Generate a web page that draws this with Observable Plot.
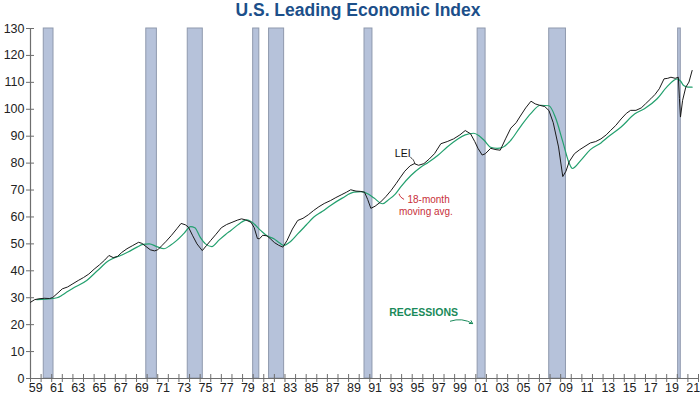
<!DOCTYPE html>
<html><head><meta charset="utf-8">
<script src="https://cdn.jsdelivr.net/npm/d3@7"></script>
<script src="https://cdn.jsdelivr.net/npm/@observablehq/plot@0.6"></script>
<style>
body{margin:0;background:#fff;}
#title{height:22px;line-height:22px;font:bold 17.5px "Liberation Sans",Arial,sans-serif;color:#1c4f8a;text-align:center;padding-left:16px;}
#chart svg{display:block;}
</style></head><body>
<div id="title">U.S. Leading Economic Index</div>
<div id="chart"></div>
<script>
// Leading Economic Index (decimal year, index value)
const leiYear = [1959.0,1959.4,1959.8,1960.3,1960.8,1961.1,1961.5,1962.0,1962.5,1963.0,1963.5,1964.0,1964.5,1965.0,1965.5,1966.0,1966.4,1966.8,1967.2,1967.6,1968.1,1968.6,1969.2,1969.5,1969.9,1970.3,1970.7,1971.0,1971.4,1971.8,1972.3,1972.8,1973.2,1973.6,1973.9,1974.3,1974.7,1975.2,1975.6,1976.0,1976.5,1977.0,1977.5,1978.0,1978.5,1978.9,1979.3,1979.8,1980.1,1980.4,1980.6,1980.9,1981.3,1981.6,1982.0,1982.4,1982.8,1983.2,1983.7,1984.2,1984.7,1985.2,1985.7,1986.2,1986.7,1987.3,1987.8,1988.3,1988.8,1989.2,1989.7,1990.1,1990.5,1990.8,1991.1,1991.5,1992.0,1992.5,1993.0,1993.5,1993.9,1994.3,1994.8,1995.2,1995.6,1996.1,1996.6,1997.1,1997.7,1998.3,1998.9,1999.5,2000.0,2000.5,2000.9,2001.2,2001.6,2001.9,2002.4,2002.9,2003.3,2003.8,2004.3,2004.8,2005.2,2005.7,2006.2,2006.6,2007.0,2007.5,2007.9,2008.3,2008.8,2009.2,2009.5,2009.8,2010.3,2010.8,2011.2,2011.8,2012.3,2012.8,2013.3,2013.7,2014.2,2014.7,2015.2,2015.6,2016.1,2016.6,2017.0,2017.5,2017.9,2018.3,2018.75,2019.1,2019.4,2019.8,2020.1,2020.2,2020.3,2020.5,2020.8,2021.1,2021.4];
const leiValue = [28.3,29.3,29.6,29.8,29.7,30.1,31.5,33.3,34.0,35.2,36.4,37.5,38.8,40.6,42.2,44.0,45.7,44.9,45.3,46.8,48.2,49.3,50.6,50.2,49.0,47.8,47.4,47.8,49.4,51.0,53.2,55.6,57.6,57.1,56.2,53.0,50.0,47.5,49.4,51.3,53.6,56.0,57.2,58.0,58.8,59.3,58.9,58.0,56.0,52.0,51.9,53.2,53.0,52.0,50.5,49.5,48.8,51.3,55.5,58.7,59.5,60.8,62.4,63.8,65.0,66.1,67.2,68.2,69.2,70.1,69.6,69.5,69.2,66.5,63.2,64.0,65.5,67.5,69.8,72.5,74.8,77.0,79.0,79.8,79.2,79.8,81.5,83.5,87.2,88.0,89.0,90.5,92.1,90.9,88.0,85.5,83.0,83.5,85.5,85.0,84.8,89.0,93.0,95.0,97.5,100.5,103.0,102.0,101.5,101.0,99.5,95.0,86.0,75.0,77.0,80.5,83.5,85.0,86.0,87.5,88.0,89.0,90.5,92.1,94.0,96.4,98.5,99.6,99.6,100.5,102.0,103.9,105.5,107.6,111.3,111.5,111.9,111.5,111.9,104.0,97.1,103.3,108.2,110.1,114.4];

// 18-month moving average (decimal year, index value)
const maYear = [1959.6,1960.5,1961.5,1962.0,1962.5,1963.0,1964.3,1965.3,1966.4,1967.0,1967.5,1968.2,1969.05,1969.6,1970.2,1970.9,1971.6,1972.2,1972.8,1973.5,1974.1,1974.5,1975.0,1975.5,1976.1,1976.8,1977.4,1977.9,1978.7,1979.4,1979.9,1980.7,1981.3,1981.95,1982.5,1982.9,1983.4,1984.2,1985.0,1985.7,1986.5,1987.3,1988.4,1989.5,1990.2,1990.8,1991.4,1992.2,1992.8,1993.4,1993.9,1994.9,1995.8,1996.5,1997.4,1998.3,1999.3,2000.0,2000.8,2001.3,2001.8,2002.4,2003.0,2003.5,2004.3,2005.2,2006.2,2007.1,2007.9,2008.5,2009.2,2009.8,2010.1,2010.9,2011.8,2012.8,2013.4,2014.7,2016.0,2016.9,2018.1,2019.0,2020.0,2020.3,2020.6,2021.0,2021.4];
const maValue = [29.3,29.5,30.0,31.0,32.3,33.5,36.4,40.0,43.8,45.0,45.7,47.0,48.8,49.8,50.0,49.0,48.2,49.5,51.3,54.0,56.4,56.0,52.5,50.0,49.0,51.5,53.5,55.0,57.5,58.9,58.0,55.0,53.0,51.9,50.3,49.4,50.5,53.7,57.0,59.9,62.0,64.3,67.0,69.2,69.4,68.6,67.0,64.9,66.5,68.5,71.1,75.5,78.5,80.2,82.8,86.0,89.0,90.5,91.1,90.2,88.4,85.9,85.5,85.8,88.5,93.5,98.5,101.5,101.3,97.0,88.0,80.0,78.0,81.0,85.0,87.5,89.5,93.4,98.3,100.2,103.9,108.2,111.3,110.5,108.8,108.2,108.2];

// Recessions (start, end as decimal years)
const recessionStart = [1960.25,1969.92,1973.83,1980.0,1981.5,1990.5,2001.17,2007.92,2020.08];
const recessionEnd   = [1961.17,1970.92,1975.25,1980.58,1982.92,1991.25,2001.92,2009.5,2020.33];

// Axes
const yDomain = [0, 130];
const yTicks = [0,10,20,30,40,50,60,70,80,90,100,110,120,130];
const xDomain = [1959, 2022];
const xTickYears = d3.range(1959, 2023);
const xLabelYears = [1959,1961,1963,1965,1967,1969,1971,1973,1975,1977,1979,1981,1983,1985,1987,1989,1991,1993,1995,1997,1999,2001,2003,2005,2007,2009,2011,2013,2015,2017,2019,2021];

// Annotations
const leiLabel = {x: 1994.1, y: 83.4, text: "LEI"};
const leiLeader = [[1994.85, 82.1], [1995.1, 81.2], [1995.25, 79.8]];
const maLabel = [{x: 1994.55, y: 66.4, text: "18-month"}, {x: 1993.75, y: 62.0, text: "moving avg."}];
const maLeader = [[1993.77, 68.5], [1993.9, 67.5], [1994.2, 66.6]];
const recLabel = {x: 1996.07, y: 24.3, text: "RECESSIONS"};
const recArrow = {x1: 1998.6, y1: 21.3, x2: 2000.7, y2: 20.4};

const lei = leiYear.map((t, i) => ({t, v: leiValue[i]}));
const ma = maYear.map((t, i) => ({t, v: maValue[i]}));
const rec = recessionStart.map((s, i) => ({s, e: recessionEnd[i]}));

const font = "'Liberation Sans', Arial, sans-serif";
const axisGray = "#6e6e6e";

const chart = Plot.plot({
  width: 700,
  height: 373,
  marginLeft: 30,
  marginRight: 2,
  marginTop: 6,
  marginBottom: 17,
  style: {fontFamily: font, fontSize: "12px", background: "#fff", color: "#222"},
  x: {domain: xDomain, axis: null},
  y: {domain: yDomain, axis: null},
  marks: [
    Plot.rect(rec, {x1: "s", x2: "e", y1: yDomain[0], y2: yDomain[1], fill: "#b6c2da", stroke: "#8f99ad", strokeWidth: 1}),
    Plot.ruleX([xDomain[0]], {y1: yDomain[0], y2: yDomain[1], stroke: axisGray, strokeWidth: 1.2}),
    Plot.ruleY([yDomain[0]], {stroke: axisGray, strokeWidth: 1.2}),
    Plot.axisY(yTicks, {tickSize: 8, dx: 4, tickFormat: () => "", stroke: axisGray, label: null}),
    Plot.axisY(yTicks, {tickSize: 0, tickPadding: 6, label: null, fontSize: 12.5, fill: "#222"}),
    Plot.axisX(xTickYears, {tickSize: 8, dy: -4, tickFormat: () => "", stroke: axisGray, label: null}),
    Plot.axisX(xLabelYears.map(y => y + 0.5), {tickSize: 0, tickPadding: 5, label: null, fontSize: 12.5, fill: "#222",
      tickFormat: d => String(Math.floor(d) % 100).padStart(2, "0")}),
    Plot.line(ma, {x: "t", y: "v", stroke: "#23a06e", strokeWidth: 1.2, curve: "monotone-x"}),
    Plot.line(lei, {x: "t", y: "v", stroke: "#1a1a1a", strokeWidth: 1}),
    Plot.text([leiLabel], {x: "x", y: "y", text: "text", fontSize: 10.5, fill: "#111"}),
    Plot.line(leiLeader, {x: d => d[0], y: d => d[1], stroke: "#111", strokeWidth: 0.8, curve: "natural"}),
    Plot.text(maLabel, {x: "x", y: "y", text: "text", textAnchor: "start", fontSize: 10, fill: "#c8303a"}),
    Plot.line(maLeader, {x: d => d[0], y: d => d[1], stroke: "#c8303a", strokeWidth: 1, curve: "natural"}),
    Plot.text([recLabel], {x: "x", y: "y", text: "text", fontSize: 10.5, fontWeight: "bold", fill: "#1a8a5a"}),
    Plot.arrow([recArrow], {x1: "x1", y1: "y1", x2: "x2", y2: "y2", bend: 25, stroke: "#1a8a5a", strokeWidth: 1, headLength: 5})
  ]
});
document.getElementById("chart").appendChild(chart);
</script>
</body></html>
